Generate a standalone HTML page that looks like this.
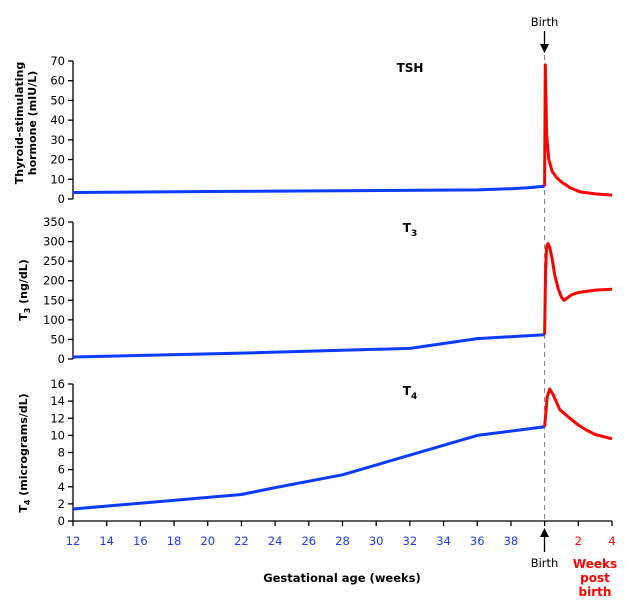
<!DOCTYPE html>
<html><head><meta charset="utf-8">
<style>
html,body{margin:0;padding:0;background:#fff;}
svg{display:block;font-family:"DejaVu Sans","Liberation Sans",sans-serif;}
</style></head>
<body>
<svg id="chart" width="626" height="614" viewBox="0 0 626 614" xmlns="http://www.w3.org/2000/svg"></svg>
<script>
// ---- data ----
const xTicksGest = [12,14,16,18,20,22,24,26,28,30,32,34,36,38];
const xTicksPost = [2,4];
const tshTicks = [0,10,20,30,40,50,60,70];
const t3Ticks = [0,50,100,150,200,250,300,350];
const t4Ticks = [0,2,4,6,8,10,12,14,16];
// weeks (gestation; post-birth = 40 + weeks after birth)
const tshPreX = [12,20,28,36,38,39,40];
const tshPreY = [3.3,3.8,4.2,4.6,5.2,5.7,6.5];
const tshPostX = [40,40.04,40.08,40.12,40.25,40.45,40.7,41,41.5,42.1,43,44];
const tshPostY = [6.5,68,50,33,20,14,11,8.6,5.8,3.6,2.6,2];
const t3PreX = [12,22,32,36,40];
const t3PreY = [5,15,27,52,62];
const t3PostX = [40,40.06,40.12,40.2,40.3,40.45,40.6,40.8,41,41.15,41.35,41.6,42,43,44];
const t3PostY = [62,230,285,295,285,255,215,180,158,150,156,164,170,176,178];
const t4PreX = [12,22,24,28,36,40];
const t4PreY = [1.4,3.1,3.9,5.4,10,11];
const t4PostX = [40,40.15,40.3,40.5,40.9,41.5,42,42.5,43,44];
const t4PostY = [11,14.5,15.4,14.8,13,12,11.2,10.6,10.1,9.6];

const NS="http://www.w3.org/2000/svg";
const svg=document.getElementById('chart');
function mk(tag,attrs,parent){const e=document.createElementNS(NS,tag);for(const k in attrs)e.setAttribute(k,attrs[k]);(parent||svg).appendChild(e);return e;}
const X0=73,X1=612,xMin=12,xMax=44;
const xs=v=>X0+(v-xMin)/(xMax-xMin)*(X1-X0);

const panels=[
 {name:'tsh',top:61,bot:199,max:70,ticks:tshTicks,pre:[tshPreX,tshPreY],post:[tshPostX,tshPostY]},
 {name:'t3',top:222,bot:359,max:350,ticks:t3Ticks,pre:[t3PreX,t3PreY],post:[t3PostX,t3PostY]},
 {name:'t4',top:384,bot:521,max:16,ticks:t4Ticks,pre:[t4PreX,t4PreY],post:[t4PostX,t4PostY]}
];

let dl=mk('line',{x1:xs(40),x2:xs(40),y1:55,y2:521,stroke:'#777','stroke-width':1,'stroke-dasharray':'5,4'});



panels.forEach(p=>{
  const ys=v=>p.bot-(v/p.max)*(p.bot-p.top);
  const g=mk('g',{});
  
  
  mk('line',{x1:X0,x2:X0,y1:p.top,y2:p.bot,stroke:'#000','stroke-width':1.3},g);
  p.ticks.forEach(t=>{
    mk('line',{x1:X0-5,x2:X0,y1:ys(t),y2:ys(t),stroke:'#000','stroke-width':1.3},g);
    const tx=mk('text',{x:X0-8,y:ys(t)+4,'text-anchor':'end','font-size':'11.5',fill:'#000'},g);
    tx.textContent=t;
    
    
  });
  const pts=(a,b)=>a.map((v,i)=>xs(v).toFixed(1)+','+ys(b[i]).toFixed(1)).join(' ');
  const l1=mk('polyline',{points:pts(p.pre[0],p.pre[1]),fill:'none',stroke:'#0a3cff','stroke-width':3,'stroke-linejoin':'round'},g);
  
  
  const l2=mk('polyline',{points:pts(p.post[0],p.post[1]),fill:'none',stroke:'#ff0000','stroke-width':3,'stroke-linejoin':'round'},g);
  
  
});

const xa=mk('g',{});


mk('line',{x1:X0,x2:X1,y1:521,y2:521,stroke:'#000','stroke-width':1.3},xa);
xTicksGest.concat([40]).forEach(t=>{
  mk('line',{x1:xs(t),x2:xs(t),y1:521,y2:526,stroke:'#000','stroke-width':1.3},xa);
});
xTicksGest.forEach(t=>{
  const tx=mk('text',{x:xs(t),y:545,'text-anchor':'middle','font-size':'11.5',fill:'#1a3cff'},xa);
  tx.textContent=t;
  
  
});
xTicksPost.forEach(t=>{
  mk('line',{x1:xs(40+t),x2:xs(40+t),y1:521,y2:526,stroke:'#000','stroke-width':1.3},xa);
  const tx=mk('text',{x:xs(40+t),y:545,'text-anchor':'middle','font-size':'11.5',fill:'#ff0000'},xa);
  tx.textContent=t;
  
  
});
</script>
<svg width="626" height="614" style="position:absolute;left:0;top:0" xmlns="http://www.w3.org/2000/svg" font-family="DejaVu Sans, Liberation Sans, sans-serif">
 <g>
  <text x="410" y="72" font-size="12" font-weight="bold" text-anchor="middle">TSH</text>
  <text x="410" y="232" font-size="12" font-weight="bold" text-anchor="middle">T<tspan font-size="9" dy="4">3</tspan></text>
  <text x="410" y="395" font-size="12" font-weight="bold" text-anchor="middle">T<tspan font-size="9" dy="4">4</tspan></text>
 </g>
 <text transform="translate(23,123) rotate(-90)" font-size="11" font-weight="bold" text-anchor="middle">Thyroid-stimulating</text>
 <text transform="translate(36,123) rotate(-90)" font-size="11" font-weight="bold" text-anchor="middle">hormone (mIU/L)</text>
 <text transform="translate(27,290) rotate(-90)" font-size="11" font-weight="bold" text-anchor="middle">T<tspan font-size="8" dy="3">3</tspan><tspan dy="-3"> (ng/dL)</tspan></text>
 <text transform="translate(27,453) rotate(-90)" font-size="11" font-weight="bold" text-anchor="middle">T<tspan font-size="8" dy="3">4</tspan><tspan dy="-3"> (micrograms/dL)</tspan></text>
 <g>
  <text x="544.5" y="26" font-size="11.5" text-anchor="middle">Birth</text>
  <line x1="544.5" y1="31" x2="544.5" y2="46" stroke="#000" stroke-width="1.3"/>
  <polygon points="540,44 549,44 544.5,53" fill="#000"/>
 </g>
 <g>
  <polygon points="540,537 549,537 544.5,528" fill="#000"/>
  <line x1="544.5" y1="535" x2="544.5" y2="552" stroke="#000" stroke-width="1.3"/>
  <text x="544.5" y="567" font-size="11.5" text-anchor="middle">Birth</text>
 </g>
 <text x="342" y="582" font-size="11.5" font-weight="bold" text-anchor="middle">Gestational age (weeks)</text>
 <g fill="#ff0000" font-size="12" font-weight="bold" text-anchor="middle">
  <text x="595" y="568">Weeks</text>
  <text x="595" y="582">post</text>
  <text x="595" y="596">birth</text>
 </g>
</svg>
</body></html>
